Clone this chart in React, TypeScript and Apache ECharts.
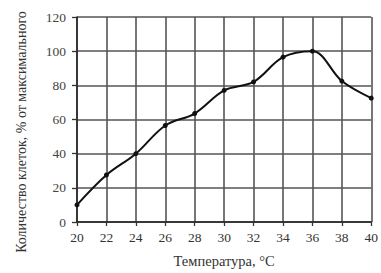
import React, { useEffect, useRef } from "react";
import * as echarts from "echarts";

const temperatures = [20, 22, 24, 26, 28, 30, 32, 34, 36, 38, 40];
const cellPercent = [10, 27.5, 40, 56.5, 63.5, 77, 82, 96.5, 100, 82.5, 72.5];
const xTitle = "Температура, °C";
const yTitle = "Количество клеток, % от максимального";

export default function App() {
  const ref = useRef<HTMLDivElement>(null);
  useEffect(() => {
    if (!ref.current) return;
    const chart = echarts.init(ref.current, undefined, { renderer: "svg" });
    const font = "'Liberation Serif', 'DejaVu Serif', serif";
    chart.setOption({
      animation: false,
      backgroundColor: "#ffffff",
      grid: { left: 77, right: 8, top: 17, bottom: 44.5, containLabel: false },
      graphic: [
        {
          type: "text",
          x: 21,
          y: 132,
          rotation: Math.PI / 2,
          style: {
            text: yTitle,
            font: `14px ${font}`,
            fill: "#333",
            textAlign: "center",
            textVerticalAlign: "middle",
          },
        },
      ],
      xAxis: {
        type: "value",
        min: 20,
        max: 40,
        interval: 2,
        name: xTitle,
        nameLocation: "middle",
        nameGap: 31,
        nameTextStyle: { fontFamily: font, fontSize: 14.5, color: "#333" },
        axisLine: { show: true, lineStyle: { color: "#222", width: 1.5 } },
        axisTick: { show: true, inside: false, length: 4, lineStyle: { color: "#333", width: 1.3 } },
        axisLabel: { fontFamily: font, fontSize: 13.5, color: "#333", margin: 8 },
        splitLine: { show: true, lineStyle: { color: "#555", width: 1.6 } },
      },
      yAxis: {
        type: "value",
        min: 0,
        max: 120,
        interval: 20,
        axisLine: { show: true, lineStyle: { color: "#222", width: 1.5 } },
        axisTick: { show: true, inside: false, length: 5, lineStyle: { color: "#333", width: 1.3 } },
        axisLabel: { fontFamily: font, fontSize: 13.5, color: "#444", margin: 11 },
        splitLine: { show: true, lineStyle: { color: "#555", width: 1.6 } },
      },
      series: [
        {
          type: "line",
          data: temperatures.map((t, i) => [t, cellPercent[i]]),
          smooth: 0.35,
          symbol: "circle",
          symbolSize: 5,
          itemStyle: { color: "#111" },
          lineStyle: { color: "#111", width: 2 },
        },
      ],
    });
    return () => chart.dispose();
  }, []);
  return <div ref={ref} style={{ width: 381, height: 273, position: "absolute", left: 0, top: 0 }} />;
}
